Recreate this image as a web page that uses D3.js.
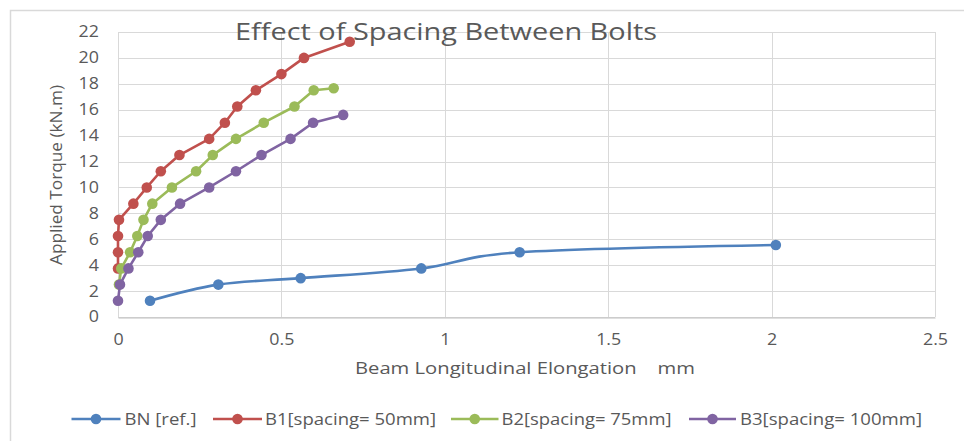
<!DOCTYPE html>
<html>
<head>
<meta charset="utf-8">
<script src="https://cdn.jsdelivr.net/npm/d3@7"></script>
<style>
  html, body { margin: 0; padding: 0; background: #fff; }
  svg { display: block; }
  text { font-family: "Open Sans", sans-serif; fill: #595959; }
</style>
</head>
<body>
<svg id="chart" width="964" height="441"></svg>
<script>
// ---- data ----
const titleText = "Effect of Spacing Between Bolts";
const xTitleText = "Beam Longitudinal Elongation    mm";
const yTitleText = "Applied Torque (kN.m)";
const xTicks = [0, 0.5, 1, 1.5, 2, 2.5];
const yTicks = [0, 2, 4, 6, 8, 10, 12, 14, 16, 18, 20, 22];
const seriesNames = ["BN [ref.]", "B1[spacing= 50mm]", "B2[spacing= 75mm]", "B3[spacing= 100mm]"];
const seriesColors = ["#4f81bd", "#c0504d", "#9bbb59", "#8064a2"];

const bnX = [0.098, 0.307, 0.559, 0.928, 1.229, 2.013];
const bnY = [1.25, 2.5, 3.0, 3.75, 5.0, 5.56];
const b1X = [0, 0, 0, 0.003, 0.047, 0.088, 0.131, 0.188, 0.279, 0.327, 0.365, 0.422, 0.5, 0.569, 0.709];
const b1Y = [3.75, 5, 6.25, 7.5, 8.75, 10, 11.25, 12.5, 13.75, 15, 16.25, 17.5, 18.75, 20, 21.25];
const b2X = [0.003, 0.01, 0.037, 0.059, 0.078, 0.105, 0.165, 0.239, 0.29, 0.361, 0.446, 0.54, 0.599, 0.66];
const b2Y = [2.5, 3.75, 5, 6.25, 7.5, 8.75, 10, 11.25, 12.5, 13.75, 15, 16.25, 17.5, 17.66];
const b3X = [0, 0.006, 0.032, 0.062, 0.091, 0.131, 0.19, 0.279, 0.361, 0.439, 0.528, 0.597, 0.689];
const b3Y = [1.25, 2.5, 3.75, 5, 6.25, 7.5, 8.75, 10, 11.25, 12.5, 13.75, 15, 15.6];

const seriesX = [bnX, b1X, b2X, b3X];
const seriesY = [bnY, b1Y, b2Y, b3Y];
const seriesSmooth = [true, false, false, false];

// ---- layout ----
const plot = { left: 118, right: 935, top: 32, bottom: 317 };
const legendLayout = [
  { x1: 71.5, x2: 120.5, tx: 124.5, tw: 72 },
  { x1: 213, x2: 262, tx: 265, tw: 171 },
  { x1: 451, x2: 498.5, tx: 501.5, tw: 170 },
  { x1: 689, x2: 736, tx: 740, tw: 182 }
];

const svg = d3.select("#chart");

// chart frame
svg.append("rect").attr("x", 10.5).attr("y", 10.5).attr("width", 1000).attr("height", 1000)
  .attr("fill", "#fff").attr("stroke", "#d9d9d9").attr("stroke-width", 1.5);

const x = d3.scaleLinear().domain([0, 2.5]).range([plot.left, plot.right]);
const y = d3.scaleLinear().domain([0, 22]).range([plot.bottom, plot.top]);

// gridlines
const grid = svg.append("g");
grid.selectAll("line.h").data(yTicks).join("line")
  .attr("x1", plot.left).attr("x2", plot.right)
  .attr("y1", d => Math.round(y(d)) + 0.5).attr("y2", d => Math.round(y(d)) + 0.5)
  .attr("stroke", "#d9d9d9").attr("stroke-width", 1);
grid.selectAll("line.v").data(xTicks).join("line")
  .attr("y1", plot.top).attr("y2", plot.bottom)
  .attr("x1", d => Math.round(x(d)) + 0.5).attr("x2", d => Math.round(x(d)) + 0.5)
  .attr("stroke", "#d9d9d9").attr("stroke-width", 1);

// axes
const xAxis = svg.append("g").attr("transform", `translate(0,${Math.round(plot.bottom) + 0.5})`)
  .call(d3.axisBottom(x).tickValues(xTicks).tickSize(0).tickPadding(16).tickFormat(d3.format("")));
xAxis.select(".domain").attr("stroke", "#bfbfbf").attr("stroke-width", 1.2);
xAxis.selectAll("text").attr("font-size", 15.5).attr("font-family", "Open Sans").attr("fill", "#595959");

const yAxis = svg.append("g").attr("transform", `translate(${plot.left},0)`)
  .call(d3.axisLeft(y).tickValues(yTicks).tickSize(0).tickPadding(19));
yAxis.select(".domain").remove();
yAxis.selectAll("text").attr("font-size", 15.5).attr("font-family", "Open Sans").attr("fill", "#595959");

// stretch tick labels slightly to match the reference's wider glyphs
svg.selectAll(".tick text").each(function () {
  const w = this.getComputedTextLength();
  d3.select(this).attr("textLength", w * 1.15).attr("lengthAdjust", "spacingAndGlyphs");
});

// series
seriesX.forEach((xs, i) => {
  const pts = xs.map((v, j) => [v, seriesY[i][j]]);
  const line = d3.line().x(d => x(d[0])).y(d => y(d[1]))
    .curve(seriesSmooth[i] ? d3.curveCardinal.tension(0) : d3.curveLinear);
  const g = svg.append("g");
  g.append("path").datum(pts).attr("d", line).attr("fill", "none")
    .attr("stroke", seriesColors[i]).attr("stroke-width", 2.6).attr("stroke-linejoin", "round");
  g.selectAll("circle").data(pts).join("circle")
    .attr("cx", d => x(d[0])).attr("cy", d => y(d[1])).attr("r", 5.3)
    .attr("fill", seriesColors[i]);
});

// title
svg.append("text").attr("x", 235).attr("y", 40).attr("font-size", 23)
  .attr("textLength", 422).attr("lengthAdjust", "spacingAndGlyphs").text(titleText);

// axis titles
svg.append("text").attr("x", 355).attr("y", 374).attr("font-size", 17)
  .attr("xml:space", "preserve").style("white-space", "pre")
  .attr("textLength", 340).attr("lengthAdjust", "spacingAndGlyphs").text(xTitleText);

svg.append("text").attr("transform", "translate(62,265) rotate(-90)")
  .attr("font-size", 16).attr("textLength", 180).attr("lengthAdjust", "spacingAndGlyphs")
  .text(yTitleText);

// legend
const legendY = 419;
legendLayout.forEach((L, i) => {
  const g = svg.append("g");
  g.append("line").attr("x1", L.x1).attr("x2", L.x2).attr("y1", legendY).attr("y2", legendY)
    .attr("stroke", seriesColors[i]).attr("stroke-width", 2.6);
  g.append("circle").attr("cx", (L.x1 + L.x2) / 2).attr("cy", legendY).attr("r", 5.3)
    .attr("fill", seriesColors[i]);
  g.append("text").attr("x", L.tx).attr("y", legendY + 5.5).attr("font-size", 16)
    .attr("textLength", L.tw).attr("lengthAdjust", "spacingAndGlyphs").text(seriesNames[i]);
});
</script>
</body>
</html>
